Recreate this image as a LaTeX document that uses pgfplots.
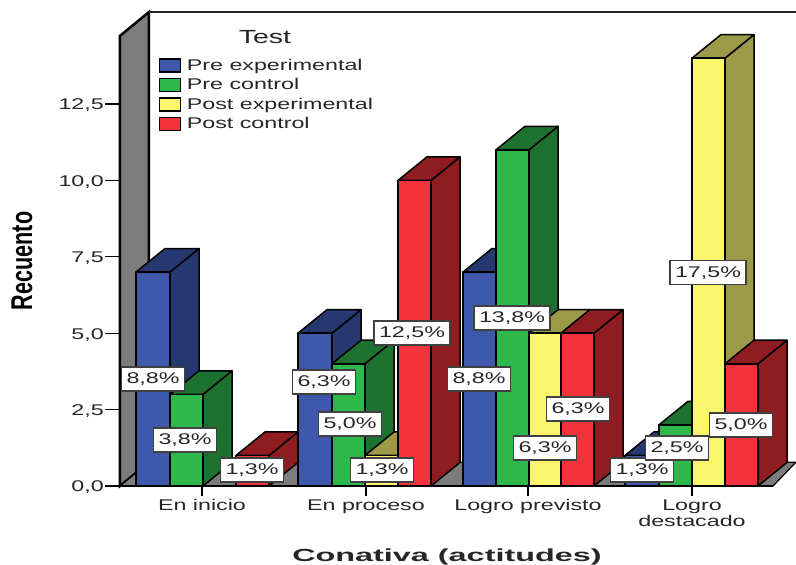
\documentclass[border=0pt]{standalone}
\usepackage{fontspec}
\setmainfont[FakeStretch=1.5]{Liberation Sans}
\newfontfamily\xlabfont[FakeStretch=1.85]{Liberation Sans}
\newfontfamily\ylabfont[FakeStretch=0.72]{Liberation Sans}
\usepackage{pgfplots}
\pgfplotsset{compat=1.18}

\definecolor{txt}{HTML}{262626}
\definecolor{wallgrey}{HTML}{7C7C7C}
\definecolor{bluef}{HTML}{3E58AC}
\definecolor{blues}{HTML}{263870}
\definecolor{greenf}{HTML}{2FB84A}
\definecolor{greens}{HTML}{1C722E}
\definecolor{yelf}{HTML}{FBF66E}
\definecolor{yels}{HTML}{9C9A48}
\definecolor{redf}{HTML}{F2333B}
\definecolor{reds}{HTML}{8E1C20}

% x is in picture pixels, y is the count; depth of a bar is 29 px / 0.77 counts
\newcommand{\barthreed}[5]{%
  \pgfmathsetmacro{\xa}{#1+29}%
  \pgfmathsetmacro{\xb}{#2+29}%
  \pgfmathsetmacro{\vt}{#3+0.77}%
  \edef\temp{\noexpand\addplot[fill=#5,draw=black,line width=1.5bp,line join=round,forget plot]
    coordinates {(#2,0) (\xb,0.77) (\xb,\vt) (#2,#3)} -- cycle;
    \noexpand\addplot[fill=#5,draw=black,line width=1.5bp,line join=round,forget plot]
    coordinates {(#1,#3) (\xa,\vt) (\xb,\vt) (#2,#3)} -- cycle;
    \noexpand\addplot[fill=#4,draw=black,line width=1.5bp,line join=round,forget plot]
    coordinates {(#1,0) (#1,#3) (#2,#3) (#2,0)} -- cycle;}%
  \temp}

\begin{document}
\begin{tikzpicture}
\path[use as bounding box] (-120bp,-79bp) rectangle (676bp,486bp);
\begin{axis}[
    scale only axis,
    width=676bp,
    height=474bp,
    xmin=120, xmax=796,
    ymin=0, ymax=15.51,
    clip=false,
    axis lines=left,
    axis line style={draw=none},
    tick align=outside,
    major tick length=10bp,
    xtick={202,366,528,692},
    xticklabels={En inicio,En proceso,Logro previsto,{Logro\\destacado}},
    ytick={0,2.5,5,7.5,10,12.5},
    yticklabels={{0,0},{2,5},{5,0},{7,5},{10,0},{12,5}},
    xtick style={black,line width=1.2bp},
    ytick style={draw=none},
    xticklabel style={align=center,text=txt,inner sep=0pt,yshift=-3.5bp,
      font=\fontsize{15.5bp}{16bp}\selectfont},
    yticklabel style={text=txt,inner sep=0pt,xshift=-6bp,yshift=-1.5bp,
      font=\fontsize{15.5bp}{16bp}\selectfont},
    xlabel={\textbf{Conativa (actitudes)}},
    xlabel style={at={(rel axis cs:0.4837,-0.1498)},anchor=center,text=txt,
      font=\fontsize{17.5bp}{20bp}\xlabfont},
    ylabel={\textbf{Recuento}},
    ylabel style={at={(rel axis cs:-0.145,0.4747)},anchor=center,text=black,
      font=\fontsize{30bp}{31bp}\ylabfont},
    legend cell align=left,
    legend style={at={(axis cs:159,14.0)},anchor=north west,draw=none,fill=none,
      inner sep=0pt,row sep=5.3bp,text=txt,
      font=\fontsize{15.5bp}{16.7bp}\selectfont,
      nodes={inner xsep=5.5bp,inner ysep=0pt}},
    legend image code/.code={\draw[#1,line width=1.2bp] (0bp,-6.5bp) rectangle (21bp,6.5bp);},
]
% walls and floor
\addplot[fill=wallgrey,draw=black,line width=2.5bp,forget plot]
  coordinates {(120,0) (120,14.73) (149,15.51) (149,0.78)} -- cycle;
\addplot[fill=wallgrey,draw=black,line width=1.2bp,forget plot]
  coordinates {(120,0) (149,0.78) (796,0.78) (773,0)} -- cycle;
\addplot[draw=txt,line width=1.5bp,forget plot] coordinates {(149,15.51) (796,15.51)};
\addplot[draw=black,line width=2bp,forget plot] coordinates {(120,0) (773,0)};
% y ticks are longer than the x ticks
\addplot[draw=black,line width=1.2bp,forget plot,unbounded coords=jump] coordinates {
  (105,0) (120,0) (105,nan)
  (105,2.5) (120,2.5) (105,nan)
  (105,5) (120,5) (105,nan)
  (105,7.5) (120,7.5) (105,nan)
  (105,10) (120,10) (105,nan)
  (105,12.5) (120,12.5)};

% En inicio: 7 3 0 1 (no bar for the 0)
\barthreed{136}{170}{7}{bluef}{blues}
\barthreed{170}{203}{3}{greenf}{greens}
\barthreed{236}{269}{1}{redf}{reds}
% En proceso: 5 4 1 10
\barthreed{298}{332}{5}{bluef}{blues}
\barthreed{332}{365}{4}{greenf}{greens}
\barthreed{365}{398}{1}{yelf}{yels}
\barthreed{398}{431}{10}{redf}{reds}
% Logro previsto: 7 11 5 5
\barthreed{463}{496}{7}{bluef}{blues}
\barthreed{496}{529}{11}{greenf}{greens}
\barthreed{529}{561}{5}{yelf}{yels}
\barthreed{561}{594}{5}{redf}{reds}
% Logro destacado: 1 2 14 4
\barthreed{625}{659}{1}{bluef}{blues}
\barthreed{659}{692}{2}{greenf}{greens}
\barthreed{692}{725}{14}{yelf}{yels}
\barthreed{725}{758}{4}{redf}{reds}

% percent boxes
\addplot[only marks,mark=none,forget plot,
    point meta=explicit symbolic,
    nodes near coords,
    nodes near coords align={anchor=center},
    every node near coord/.append style={anchor=center,fill=white,draw=black!75,
      line width=1.4bp,text=txt,inner xsep=5bp,inner ysep=0pt,
      minimum height=24bp,text height=11bp,text depth=2bp,
      font=\fontsize{15.5bp}{16bp}\selectfont},
  ] table[x=x,y=y,meta=lab] {
x   y     lab
153 3.50  8,8\%
185 1.51  3,8\%
252 0.52  1,3\%
324 3.40  6,3\%
350 2.03  5,0\%
382 0.52  1,3\%
412 5.00  12,5\%
479 3.50  8,8\%
512 5.50  13,8\%
545 1.24  6,3\%
578 2.52  6,3\%
642 0.52  1,3\%
677 1.24  2,5\%
708 6.98  17,5\%
741 2.00  5,0\%
};

\addlegendimage{fill=bluef,draw=black}
\addlegendentry{Pre experimental}
\addlegendimage{fill=greenf,draw=black}
\addlegendentry{Pre control}
\addlegendimage{fill=yelf,draw=black}
\addlegendentry{Post experimental}
\addlegendimage{fill=redf,draw=black}
\addlegendentry{Post control}

\node[text=txt,font=\fontsize{19bp}{20bp}\selectfont] at (axis cs:265,14.70) {Test};
\end{axis}
\end{tikzpicture}
\end{document}
